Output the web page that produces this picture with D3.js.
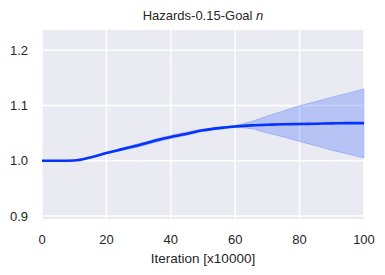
<!DOCTYPE html>
<html><head><meta charset="utf-8">
<script src="https://cdn.jsdelivr.net/npm/d3@7"></script>
<style>body{margin:0;background:#fff}svg{display:block}text{font-family:"Liberation Sans",Arial,sans-serif;fill:#262626}</style>
</head><body>
<script>
const iterations = [0,5,10,15,20,25,30,35,40,45,50,55,60,65,70,75,80,85,90,95,100];
const meanValues = [1.0,1.0,1.0005,1.006,1.014,1.021,1.028,1.036,1.043,1.049,1.055,1.059,1.062,1.064,1.065,1.066,1.0665,1.067,1.0675,1.068,1.068];
const upperValues = [1.0,1.0,1.0008,1.0065,1.015,1.023,1.031,1.039,1.046,1.052,1.057,1.061,1.064,1.071,1.081,1.090,1.0995,1.107,1.115,1.122,1.130];
const lowerValues = [1.0,1.0,1.0002,1.0055,1.013,1.019,1.025,1.033,1.040,1.046,1.053,1.057,1.060,1.058,1.050,1.043,1.035,1.027,1.019,1.012,1.005];
const xTicks = [0,20,40,60,80,100];
const yTicks = [0.9,1.0,1.1,1.2];
const title = "Hazards-0.15-Goal ";
const titleItalic = "n";
const xLabel = "Iteration [x10000]";

const W=385,H=275, L=42,R=364,T=30,B=219;
const svg=d3.select("body").append("svg").attr("width",W).attr("height",H);
const x=d3.scaleLinear().domain([0,100]).range([L,R]);
const y=d3.scaleLinear().domain([0.8946,1.2365]).range([B,T]);
svg.append("rect").attr("x",L).attr("y",T).attr("width",R-L).attr("height",B-T).attr("fill","#eaeaf2");
svg.append("g").selectAll("line").data(xTicks).join("line")
  .attr("x1",d=>x(d)).attr("x2",d=>x(d)).attr("y1",T).attr("y2",B)
  .attr("stroke","#fff").attr("stroke-width",1.4);
svg.append("g").selectAll("line").data(yTicks).join("line")
  .attr("x1",L).attr("x2",R).attr("y1",d=>y(d)).attr("y2",d=>y(d))
  .attr("stroke","#fff").attr("stroke-width",1.4);
const data=iterations.map((d,i)=>({x:d,m:meanValues[i],lo:lowerValues[i],hi:upperValues[i]}));
const area=d3.area().x(d=>x(d.x)).y0(d=>y(d.lo)).y1(d=>y(d.hi)).curve(d3.curveMonotoneX);
svg.append("path").datum(data).attr("d",area).attr("fill","#0a3cff").attr("fill-opacity",0.22)
  .attr("stroke","#0a3cff").attr("stroke-opacity",0.22).attr("stroke-width",1);
const line=d3.line().x(d=>x(d.x)).y(d=>y(d.m)).curve(d3.curveMonotoneX);
svg.append("path").datum(data).attr("d",line).attr("fill","none").attr("stroke","#0433ff").attr("stroke-width",2.6);
svg.append("g").selectAll("text").data(xTicks).join("text")
  .attr("x",d=>x(d)).attr("y",244).attr("text-anchor","middle").attr("font-size",13).text(d=>d);
svg.append("g").selectAll("text").data(yTicks).join("text")
  .attr("x",28).attr("y",d=>y(d)+4.5).attr("text-anchor","end").attr("font-size",13).text(d=>d.toFixed(1));
const t=svg.append("text").attr("x",(L+R)/2).attr("y",20).attr("text-anchor","middle").attr("font-size",13);
t.append("tspan").text(title);
t.append("tspan").attr("font-style","italic").text(titleItalic);
svg.append("text").attr("x",(L+R)/2).attr("y",263).attr("text-anchor","middle").attr("font-size",13.5).text(xLabel);
</script>
</body></html>
